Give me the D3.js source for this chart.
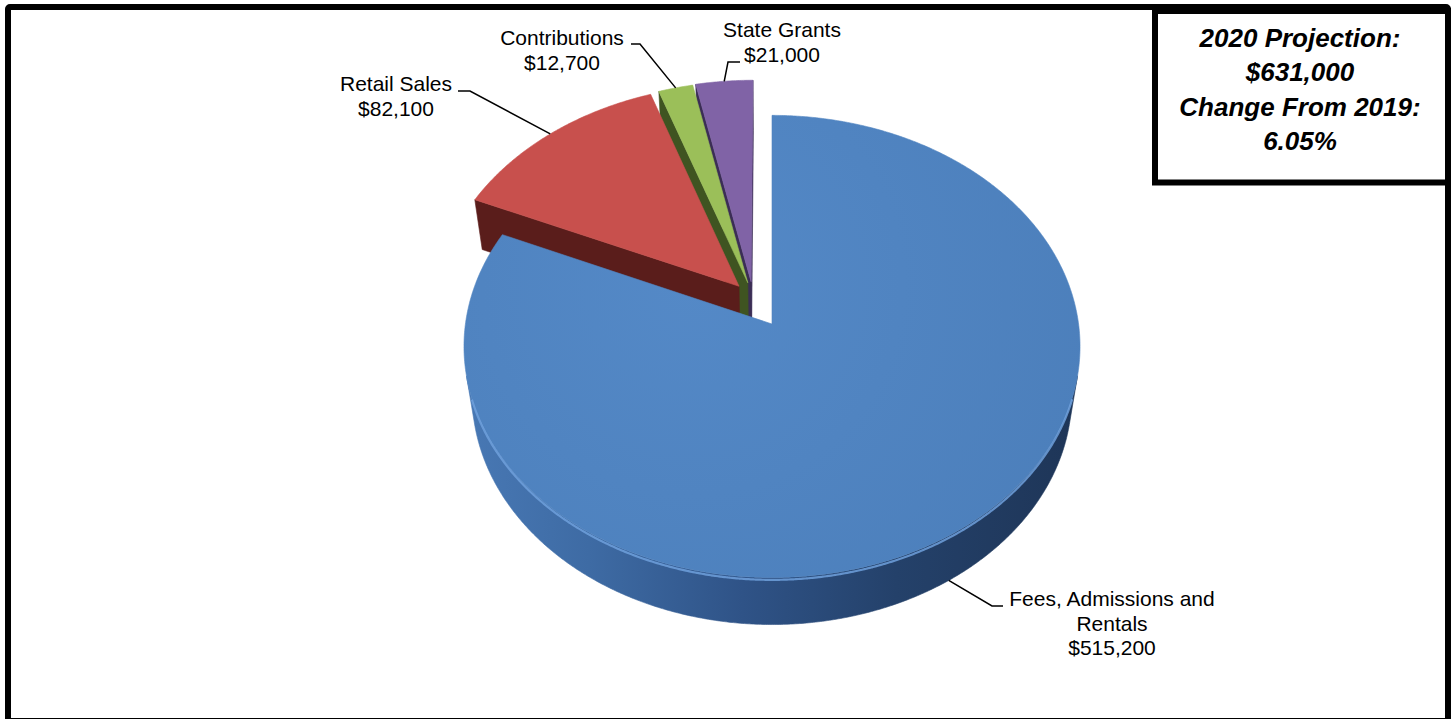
<!DOCTYPE html>
<html>
<head>
<meta charset="utf-8">
<script src="https://cdn.jsdelivr.net/npm/d3@7"></script>
<style>
  html, body { margin: 0; padding: 0; background: #fff; }
  svg { display: block; }
  text { font-family: "Liberation Sans", Arial, sans-serif; fill: #000; }
</style>
</head>
<body>
<svg id="chart" width="1453" height="719"></svg>
<script>
// ---- data ----
const categories = ["Fees, Admissions and Rentals", "Retail Sales", "Contributions", "State Grants"];
const values = [515200, 82100, 12700, 21000];
const exploded = [false, true, true, true];
const labelNames = [["Fees, Admissions and", "Rentals"], ["Retail Sales"], ["Contributions"], ["State Grants"]];
const summaryLines = ["2020 Projection:", "$631,000", "Change From 2019:", "6.05%"];

// ---- styling ----
const topColors = ["#5084c1", "#c8504d", "#9bbf59", "#8063a6"];
const sideColors = ["#35598c", "#5a1d1b", "#3f5421", "#3b2d55"];
const rimHighlight = ["#6fa0dc", "#dc7470", "#b6d678", "#9a82c0"];

// label placement (text centre x, first baseline y, leader elbow and end)
const labelLayout = [
  { x: 1112, y: 606, elbow: [992, 606], end: [1003, 606] },
  { x: 396,  y: 91,  elbow: [470, 91],  end: [458, 91] },
  { x: 562,  y: 45,  elbow: [640, 44],  end: [631, 44] },
  { x: 782,  y: 37,  elbow: [728, 62],  end: [740, 62] }
];
const lineGap = 24.5;

const svg = d3.select("#chart");
const defs = svg.append("defs");
const fmt = d3.format("$,");

// ---- 3D view of the pie (unit radius disc, perspective camera) ----
const view = { cx: 772, cy: 324, focal: 2100, dist: 6.85, tilt: 48.3, depth: 0.248 };
const sT = Math.sin(view.tilt * Math.PI / 180), cT = Math.cos(view.tilt * Math.PI / 180);
function project(X, Y, Z) {
  const yp = Z * sT + Y * cT;
  const zp = Z * cT - Y * sT + view.dist;
  return { x: view.cx + view.focal * X / zp, y: view.cy - view.focal * yp / zp, z: zp };
}

// detached wedges are pulled out together, fanned slightly around a common axis
const explodeDist = 0.2;
const clusterAxis = 332 * Math.PI / 180;
const spread = 0.35;

const arcs = d3.pie().sort(null).value(d => d)(values);
const slices = arcs.map((a, i) => {
  const mid = (a.startAngle + a.endAngle) / 2;
  let ox = 0, oz = 0;
  if (exploded[i]) {
    const dir = clusterAxis + spread * (mid - clusterAxis);
    ox = explodeDist * Math.sin(dir);
    oz = explodeDist * Math.cos(dir);
  }
  return { i, a0: a.startAngle, a1: a.endAngle, mid, ox, oz, value: a.data };
});

const rim = (s, th, Y) => project(s.ox + Math.sin(th), Y, s.oz + Math.cos(th));
const apex = (s, Y) => project(s.ox, Y, s.oz);
const sampleAngles = s => {
  const n = Math.max(2, Math.ceil((s.a1 - s.a0) / (0.4 * Math.PI / 180)));
  return d3.range(n + 1).map(k => s.a0 + (s.a1 - s.a0) * k / n);
};
const facing = (s, th) => -1 - s.ox * Math.sin(th) - s.oz * Math.cos(th) - view.dist * cT * Math.cos(th);
const polyPath = pts => d3.line().x(p => p.x).y(p => p.y)(pts) + "Z";

// side gradient for the large wedge
const sideGrad = defs.append("linearGradient").attr("id", "sideBlue")
  .attr("gradientUnits", "userSpaceOnUse")
  .attr("x1", view.cx - 306).attr("x2", view.cx + 309).attr("y1", 0).attr("y2", 0);
[[0, "#4878b4"], [0.2, "#3e6ba4"], [0.45, "#2f5387"], [0.7, "#24416a"], [1, "#1e3557"]]
  .forEach(([o, c]) => sideGrad.append("stop").attr("offset", o).attr("stop-color", c));

const topGrad = defs.append("radialGradient").attr("id", "topBlue")
  .attr("gradientUnits", "userSpaceOnUse")
  .attr("cx", view.cx - 80).attr("cy", view.cy - 40).attr("r", 420);
[[0, "#5489c7"], [1, "#4c7fbb"]]
  .forEach(([o, c]) => topGrad.append("stop").attr("offset", o).attr("stop-color", c));

// ---- collect visible side faces ----
const faces = [];
slices.forEach(s => {
  const ang = sampleAngles(s);
  // curved outer wall, only where it faces the camera
  let run = [];
  const flush = () => {
    if (run.length > 1) {
      const pts = run.map(th => rim(s, th, 0)).concat(run.slice().reverse().map(th => rim(s, th, -view.depth)));
      faces.push({ s, pts, kind: "outer" });
    }
    run = [];
  };
  ang.forEach(th => { if (facing(s, th) > 0) run.push(th); else flush(); });
  flush();
  // flat radial walls
  const camX = -s.ox, camZ = -view.dist * cT - s.oz;
  const walls = [
    { th: s.a0, n: [-Math.cos(s.a0), Math.sin(s.a0)] },
    { th: s.a1, n: [Math.cos(s.a1), -Math.sin(s.a1)] }
  ];
  walls.forEach(w => {
    if (w.n[0] * camX + w.n[1] * camZ > 1e-6) {
      faces.push({ s, kind: "radial", pts: [apex(s, 0), rim(s, w.th, 0), rim(s, w.th, -view.depth), apex(s, -view.depth)] });
    }
  });
});
faces.forEach(f => f.depth = d3.mean(f.pts, p => p.z));
faces.sort((a, b) => b.depth - a.depth);

const pieG = svg.append("g");
pieG.selectAll("path.side").data(faces).join("path")
  .attr("class", "side")
  .attr("d", f => polyPath(f.pts))
  .attr("fill", f => (f.s.i === 0 ? "url(#sideBlue)" : sideColors[f.s.i]))
  .attr("stroke", f => (f.s.i === 0 ? "url(#sideBlue)" : sideColors[f.s.i]))
  .attr("stroke-width", 0.6);

// top faces
pieG.selectAll("path.top").data(slices).join("path")
  .attr("class", "top")
  .attr("d", s => polyPath([apex(s, 0)].concat(sampleAngles(s).map(th => rim(s, th, 0)))))
  .attr("fill", s => (s.i === 0 ? "url(#topBlue)" : topColors[s.i]))
  .attr("stroke", s => topColors[s.i])
  .attr("stroke-width", 0.6);

// soft bevel highlight along the front rim
pieG.selectAll("path.bevel").data(slices).join("path")
  .attr("class", "bevel")
  .attr("d", s => {
    const pts = sampleAngles(s).filter(th => facing(s, th) > 0.4).map(th => rim(s, th, -0.012));
    return pts.length > 1 ? d3.line().x(p => p.x).y(p => p.y).curve(d3.curveBasis)(pts) : null;
  })
  .attr("fill", "none")
  .attr("stroke", s => rimHighlight[s.i])
  .attr("stroke-width", 2.2)
  .attr("stroke-opacity", 0.85);

// ---- data labels with leader lines ----
const labelG = svg.append("g");
slices.forEach(s => {
  const L = labelLayout[s.i];
  const front = Math.cos(s.mid) < 0;
  const a = rim(s, s.mid, front ? -view.depth : 0);
  labelG.append("path")
    .attr("d", d3.line()([[a.x, a.y], L.elbow, L.end]))
    .attr("fill", "none").attr("stroke", "#000").attr("stroke-width", 1.5);
  const lines = labelNames[s.i].concat([fmt(s.value)]);
  const t = labelG.append("text").attr("text-anchor", "middle").attr("font-size", 21);
  lines.forEach((ln, k) => t.append("tspan").attr("x", L.x).attr("y", L.y + k * lineGap).text(ln));
});

// ---- frame and summary box ----
svg.append("rect").attr("x", 8).attr("y", 7).attr("width", 1440).attr("height", 714)
  .attr("fill", "none").attr("stroke", "#000").attr("stroke-width", 6).attr("rx", 2);
svg.append("rect").attr("x", 1155).attr("y", 11).attr("width", 293).attr("height", 171.5)
  .attr("fill", "#fff").attr("stroke", "#000").attr("stroke-width", 6);
const sumText = svg.append("text").attr("text-anchor", "middle")
  .attr("font-size", 26).attr("font-weight", "bold").attr("font-style", "italic");
summaryLines.forEach((ln, k) => sumText.append("tspan").attr("x", 1300).attr("y", 47 + k * 34.3).text(ln));
</script>
</body>
</html>
